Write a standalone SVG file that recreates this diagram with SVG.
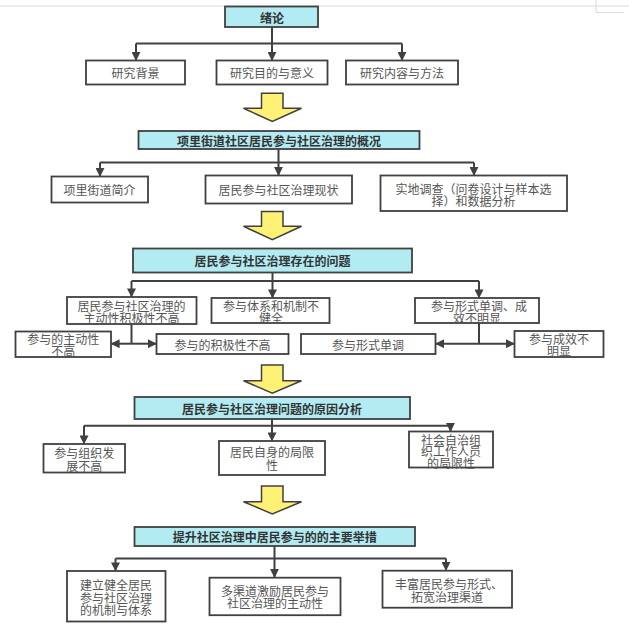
<svg xmlns="http://www.w3.org/2000/svg" width="629" height="624" viewBox="0 0 629 624">
<defs>
<marker id="ah" viewBox="0 0 10 10" refX="9" refY="5" markerWidth="9" markerHeight="9" markerUnits="userSpaceOnUse" orient="auto">
<path d="M0,0 L10,5 L0,10 z" fill="#404040"/>
</marker>
<style>
.box{fill:#ffffff;stroke:#404040;stroke-width:1.8}
.hd{fill:#b2ebf2;stroke:#404040;stroke-width:1.8}
.t{font-family:"Noto Sans CJK SC","Noto Sans",sans-serif;font-size:12px;fill:#555555;text-anchor:middle;dominant-baseline:central}
.b{font-family:"Noto Sans CJK SC","Noto Sans",sans-serif;font-size:12px;fill:#333333;font-weight:bold;text-anchor:middle;dominant-baseline:central}
.c{fill:none;stroke:#404040;stroke-width:2}
.ca{fill:none;stroke:#404040;stroke-width:2;marker-end:url(#ah)}
.ya{fill:#fff176;stroke:#404040;stroke-width:1.5;stroke-linejoin:miter}
.pg{fill:none;stroke:#d9d9d9;stroke-width:1}
</style>
</defs>
<g id="page">
<path class="pg" d="M0,6 H629"/>
<path class="pg" d="M596,0 V12.5 H624"/>
</g>
<g id="connectors">
<path class="c" d="M272,27 V43.5 M136,43.5 H402"/>
<path class="ca" d="M136,43.5 V60"/>
<path class="ca" d="M272,43.5 V60"/>
<path class="ca" d="M402,43.5 V60"/>
<path class="c" d="M278.5,149 V162.5 M100,162.5 H474"/>
<path class="ca" d="M100,162.5 V176"/>
<path class="ca" d="M278.5,162.5 V175"/>
<path class="ca" d="M474,162.5 V175"/>
<path class="c" d="M272.5,272.5 V281 M131.5,281 H479"/>
<path class="ca" d="M131.5,281 V296.5"/>
<path class="ca" d="M272.5,281 V297.5"/>
<path class="ca" d="M479,281 V297.5"/>
<path class="c" d="M131.5,324 V343.7"/>
<path class="ca" d="M131.5,343.7 H111.5"/>
<path class="ca" d="M131.5,343.7 H156"/>
<path class="c" d="M479,323 V343.7"/>
<path class="ca" d="M479,343.7 H436"/>
<path class="ca" d="M479,343.7 H514"/>
<path class="c" d="M272,419 V425.7 M84,425.7 H450.5"/>
<path class="ca" d="M84,425.7 V443.5"/>
<path class="ca" d="M272,425.7 V440.5"/>
<path class="ca" d="M450.5,425.7 V431"/>
<path class="c" d="M274.5,546 V558.5 M115.5,558.5 H446"/>
<path class="ca" d="M115.5,558.5 V570.5"/>
<path class="ca" d="M274.5,558.5 V577"/>
<path class="ca" d="M446,558.5 V570"/>
</g>
<g id="flow-arrows">
<path class="ya" d="M261.5,93.3 H283 V108.3 H301.5 L272.3,121.5 L243.5,108.3 H261.5 Z"/>
<path class="ya" d="M261.5,211.5 H283 V226.3 H301.5 L272.3,239.7 L243.5,226.3 H261.5 Z"/>
<path class="ya" d="M261.5,365 H283 V380.7 H301.5 L272.3,393.3 L243.5,380.7 H261.5 Z"/>
<path class="ya" d="M261.5,486 H283 V501.7 H301.5 L272.3,514 L243.5,501.7 H261.5 Z"/>
</g>
<g id="n1"><rect class="hd" x="225" y="6.5" width="93" height="20.5"/><text class="b" x="272" y="17">绪论</text></g>
<g id="n2"><rect class="box" x="86" y="60.5" width="99" height="24"/><text class="t" x="135.5" y="72.5">研究背景</text></g>
<g id="n3"><rect class="box" x="216.5" y="60.5" width="111" height="24"/><text class="t" x="272" y="72.5">研究目的与意义</text></g>
<g id="n4"><rect class="box" x="346" y="60.5" width="112" height="24"/><text class="t" x="402" y="72.5">研究内容与方法</text></g>
<g id="n5"><rect class="hd" x="138.5" y="131" width="281" height="18"/><text class="b" x="279" y="140">项里街道社区居民参与社区治理的概况</text></g>
<g id="n6"><rect class="box" x="51.5" y="176.5" width="96.5" height="26"/><text class="t" x="99.5" y="189.5">项里街道简介</text></g>
<g id="n7"><rect class="box" x="205.5" y="175.5" width="146.5" height="28"/><text class="t" x="278.5" y="189.5">居民参与社区治理现状</text></g>
<g id="n8"><rect class="box" x="380.5" y="175.5" width="186.5" height="35.5"/><text class="t" x="473.5" y="188">实地调查（问卷设计与样本选</text><text class="t" x="473.5" y="200">择）和数据分析</text></g>
<g id="n9"><rect class="hd" x="133" y="248.5" width="279" height="24"/><text class="b" x="272.5" y="260.5">居民参与社区治理存在的问题</text></g>
<g id="n10"><rect class="box" x="67" y="297" width="129.5" height="27"/><text class="t" x="131.5" y="305.5">居民参与社区治理的</text><text class="t" x="131.5" y="317.5">主动性积极性不高</text></g>
<g id="n11"><rect class="box" x="211.5" y="298" width="118" height="25"/><text class="t" x="271" y="305.5">参与体系和机制不</text><text class="t" x="271" y="317">健全</text></g>
<g id="n12"><rect class="box" x="415" y="298" width="124" height="25"/><text class="t" x="479" y="305.5">参与形式单调、成</text><text class="t" x="477" y="317.5">效不明显</text></g>
<g id="n13"><rect class="box" x="15.5" y="331.5" width="95.5" height="25.5"/><text class="t" x="63.3" y="338.5">参与的主动性</text><text class="t" x="63.3" y="350">不高</text></g>
<g id="n14"><rect class="box" x="156.5" y="334" width="132" height="20"/><text class="t" x="222.5" y="344">参与的积极性不高</text></g>
<g id="n15"><rect class="box" x="301" y="334" width="134.5" height="20"/><text class="t" x="368" y="344">参与形式单调</text></g>
<g id="n16"><rect class="box" x="514.5" y="331" width="89" height="26"/><text class="t" x="559" y="338.7">参与成效不</text><text class="t" x="559" y="350.5">明显</text></g>
<g id="n17"><rect class="hd" x="134.5" y="397" width="275.5" height="22"/><text class="b" x="272" y="408">居民参与社区治理问题的原因分析</text></g>
<g id="n18"><rect class="box" x="43.5" y="444" width="81.5" height="28.5"/><text class="t" x="84.3" y="452.5">参与组织发</text><text class="t" x="84.3" y="465">展不高</text></g>
<g id="n19"><rect class="box" x="219" y="441" width="106" height="34"/><text class="t" x="272" y="451.5">居民自身的局限</text><text class="t" x="272" y="464">性</text></g>
<g id="n20"><rect class="box" x="409" y="431.5" width="84" height="36"/><text class="t" x="451" y="439">社会自治组</text><text class="t" x="451" y="450.5">织工作人员</text><text class="t" x="451" y="462">的局限性</text></g>
<g id="n21"><rect class="hd" x="134.5" y="527" width="280.5" height="19"/><text class="b" x="274.7" y="536.7">提升社区治理中居民参与的的主要举措</text></g>
<g id="n22"><rect class="box" x="67" y="571" width="98.5" height="50.5"/><text class="t" x="116" y="584.3">建立健全居民</text><text class="t" x="116" y="597">参与社区治理</text><text class="t" x="116" y="609.5">的机制与体系</text></g>
<g id="n23"><rect class="box" x="209.5" y="577.7" width="131" height="37.5"/><text class="t" x="275" y="590">多渠道激励居民参与</text><text class="t" x="275" y="602.5">社区治理的主动性</text></g>
<g id="n24"><rect class="box" x="382.5" y="570.7" width="129.5" height="37" /><text class="t" x="449" y="583.3">丰富居民参与形式、</text><text class="t" x="447" y="596.5">拓宽治理渠道</text></g>
</svg>
